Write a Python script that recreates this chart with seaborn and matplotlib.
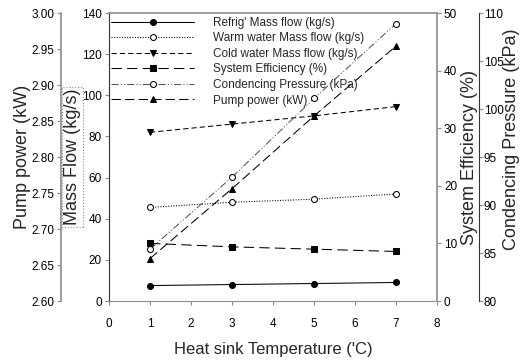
import matplotlib
matplotlib.use("Agg")
import matplotlib.pyplot as plt
import seaborn as sns
import numpy as np

sns.set_theme(style="white")
plt.rcParams['font.family'] = ['Liberation Sans', 'DejaVu Sans']

temps = [1, 3, 5, 7]
refrig_flow = [7.5, 8.0, 8.5, 9.0]
warm_flow = [45.5, 48.0, 49.5, 52.0]
cold_flow = [82.0, 86.0, 90.0, 94.5]
efficiency = [10.0, 9.4, 9.0, 8.6]
cond_pressure = [85.4, 92.9, 101.1, 108.9]
pump_power = [2.659, 2.756, 2.857, 2.954]

fig = plt.figure(figsize=(5.25, 3.63), dpi=100)
ax = fig.add_axes([109/525, 1-301/363, 328/525, 288/363])
ax_pump = ax.twinx()
ax_eff = ax.twinx()
ax_pr = ax.twinx()

gray = '#8c8c8c'
lw = 0.75
ms = 4.3
ylab_fs = 13
xlab_fs = 12

sns.lineplot(x=temps, y=refrig_flow, ax=ax, color='black', lw=lw, marker='o', ms=ms,
             mfc='black', mec='black', linestyle='-', label="Refrig' Mass flow (kg/s)", legend=False)
sns.lineplot(x=temps, y=warm_flow, ax=ax, color='black', lw=lw, marker='o', ms=ms,
             mfc='white', mec='black', linestyle=(0, (1, 1.5)), label="Warm water Mass flow (kg/s)", legend=False)
sns.lineplot(x=temps, y=cold_flow, ax=ax, color='black', lw=lw, marker='v', ms=ms,
             mfc='black', mec='black', linestyle=(0, (5, 3)), label="Cold water Mass flow (kg/s)", legend=False)
sns.lineplot(x=temps, y=efficiency, ax=ax_eff, color='black', lw=lw, marker='s', ms=ms,
             mfc='black', mec='black', linestyle=(0, (10, 5)), label="System Efficiency (%)", legend=False)
sns.lineplot(x=temps, y=cond_pressure, ax=ax_pr, color='#555555', lw=lw, marker='o', ms=ms,
             mfc='white', mec='black', linestyle=(0, (7, 2, 1, 2, 1, 2)), label="Condencing Pressure (kPa)", legend=False)
sns.lineplot(x=temps, y=pump_power, ax=ax_pump, color='black', lw=lw, marker='^', ms=ms,
             mfc='black', mec='black', linestyle=(0, (9, 4)), label="Pump power (kW)", legend=False)

def style_ticks(a):
    a.tick_params(axis='both', which='major', labelsize=8.5, length=3, width=0.8,
                  color=gray, direction='out', pad=2, labelcolor='black')

# main axis
ax.set_xlim(0, 8)
ax.set_ylim(0, 140)
ax.set_xticks(range(0, 9))
ax.set_yticks(range(0, 141, 20))
style_ticks(ax)
ax.tick_params(left=True, bottom=True)
ax.tick_params(axis='x', pad=9)
ax.set_xlabel("Heat sink Temperature ('C)", fontsize=xlab_fs, labelpad=9)
ax.set_ylabel("Mass Flow (kg/s)", fontsize=ylab_fs, labelpad=1,
              bbox=dict(boxstyle='square,pad=0.1', fc='none', ec=gray, ls=':', lw=0.8))
for s in ['top', 'right']:
    ax.spines[s].set_visible(False)
ax.spines['left'].set_color('#333333')
ax.spines['bottom'].set_color(gray)
ax.spines['left'].set_linewidth(0.8)
ax.spines['bottom'].set_linewidth(0.8)

# pump axis (outer left)
pump_ticks = [2.60, 2.65, 2.70, 2.75, 2.80, 2.85, 2.90, 2.95, 3.00]
ax_pump.set_ylim(2.60, 3.00)
ax_pump.set_yticks(pump_ticks)
ax_pump.set_yticklabels([f"{v:.2f}" for v in pump_ticks])
ax_pump.yaxis.set_ticks_position('left')
ax_pump.yaxis.set_label_position('left')
for s in ['top', 'right', 'bottom']:
    ax_pump.spines[s].set_visible(False)
ax_pump.spines['left'].set_visible(True)
ax_pump.spines['left'].set_position(('axes', -48/328))
ax_pump.spines['left'].set_color(gray)
ax_pump.spines['left'].set_linewidth(1.2)
style_ticks(ax_pump)
ax_pump.tick_params(left=True, right=False)
ax_pump.set_ylabel("Pump power (kW)", fontsize=ylab_fs, labelpad=0)

# efficiency axis (inner right)
ax_eff.set_ylim(0, 50)
ax_eff.set_yticks(range(0, 51, 10))
for s in ['top', 'left', 'bottom']:
    ax_eff.spines[s].set_visible(False)
ax_eff.spines['right'].set_color(gray)
ax_eff.spines['right'].set_linewidth(1.2)
style_ticks(ax_eff)
ax_eff.tick_params(right=True, left=False)
ax_eff.set_ylabel("System Efficiency (%)", fontsize=ylab_fs, labelpad=3)

# pressure axis (outer right)
ax_pr.set_ylim(80, 110)
ax_pr.set_yticks(range(80, 111, 5))
for s in ['left', 'bottom']:
    ax_pr.spines[s].set_visible(False)
ax_pr.spines['right'].set_position(('axes', 370/328))
ax_pr.spines['right'].set_color('#333333')
ax_pr.spines['right'].set_linewidth(0.8)
style_ticks(ax_pr)
ax_pr.tick_params(right=True, left=False, pad=0.5)
ax_pr.set_ylabel("Condencing Pressure (kPa)", fontsize=ylab_fs)
ax_pr.yaxis.set_label_coords(1.2, 0.56)
ax_pr.spines['top'].set_visible(True)
ax_pr.spines['top'].set_color(gray)
ax_pr.spines['top'].set_linewidth(1.2)

handles = []
labels = []
for a in [ax, ax_eff, ax_pr, ax_pump]:
    h, l = a.get_legend_handles_labels()
    handles += h
    labels += l
leg = ax_pr.legend(handles, labels, loc='upper left', bbox_to_anchor=(0.0, 0.995),
                   frameon=False, fontsize=8.5, handlelength=7.0, handletextpad=1.6,
                   labelspacing=0.3, borderaxespad=0.1, borderpad=0.1)

fig.savefig("out.png", dpi=100)
